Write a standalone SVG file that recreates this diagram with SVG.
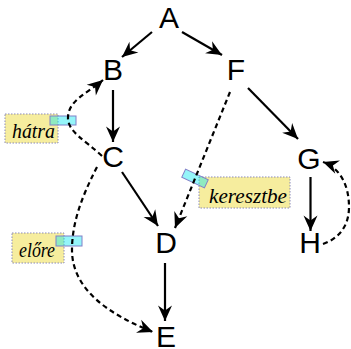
<svg xmlns="http://www.w3.org/2000/svg" width="351" height="349" viewBox="0 0 351 349">
  <style>
    .node { font-family: "Liberation Sans", Arial, sans-serif; font-size: 30px; fill: #000; text-anchor: middle; }
    .edge { fill: none; stroke: #000; stroke-width: 2.2; marker-end: url(#ah); }
    .dash { stroke-dasharray: 5 3.5; }
    .lbox { fill: #f6ed9e; stroke: #8a8ab8; stroke-width: 1; stroke-dasharray: 1.5 1.5; }
    .tag { fill: #00e8f0; fill-opacity: 0.42; stroke: #8080c8; stroke-width: 1; }
    .ltext { font-family: "Liberation Serif", "Times New Roman", serif; font-style: italic; font-size: 21px; fill: #000; }
  </style>
  <defs>
    <marker id="ah" viewBox="-17 -8 18 16" refX="0" refY="0" markerWidth="18" markerHeight="16" markerUnits="userSpaceOnUse" orient="auto">
      <path d="M0,0 L-15.5,-7 L-10.5,0 L-15.5,7 Z" fill="#000"/>
    </marker>
  </defs>

  <!-- edge labels -->
  <g id="label-hatra">
    <rect class="lbox" x="5" y="114" width="53" height="29"/>
    <text class="ltext" x="12" y="138" textLength="43" lengthAdjust="spacingAndGlyphs">hátra</text>
    <rect class="tag" x="50" y="116" width="26" height="9"/>
  </g>
  <g id="label-keresztbe">
    <rect class="lbox" x="199" y="177" width="91" height="31"/>
    <text class="ltext" x="209" y="203" textLength="78" lengthAdjust="spacingAndGlyphs">keresztbe</text>
    <rect class="tag" x="182.5" y="174" width="25" height="9" transform="rotate(25 195 178.5)"/>
  </g>
  <g id="label-elore">
    <rect class="lbox" x="12" y="233" width="52" height="30"/>
    <text class="ltext" x="19" y="257" textLength="36" lengthAdjust="spacingAndGlyphs">előre</text>
    <rect class="tag" x="56" y="236" width="26" height="10"/>
  </g>

  <!-- connectors -->
  <g id="edges">
    <line class="edge" x1="152" y1="32" x2="122" y2="57"/>
    <line class="edge" x1="182" y1="32" x2="222" y2="55"/>
    <line class="edge" x1="113" y1="90" x2="113" y2="142"/>
    <line class="edge" x1="122" y1="172" x2="158" y2="226"/>
    <line class="edge" x1="248" y1="88" x2="298" y2="139"/>
    <line class="edge dash" x1="230" y1="92" x2="175" y2="228"/>
    <line class="edge" x1="310.5" y1="177" x2="310.5" y2="231"/>
    <line class="edge" x1="165" y1="263" x2="165" y2="321"/>
    <path class="edge dash" d="M102,156 C85,140 68,132 68,118 C68,100 88,93 103,80"/>
    <path class="edge dash" d="M97,167 C80,200 72,225 72,250 C72,290 110,315 153,332"/>
    <path class="edge dash" d="M323,244 C340,238 349,225 349,207 C349,185 340,168 323,162"/>
  </g>

  <!-- nodes -->
  <g id="node-A"><text class="node" x="169" y="28">A</text></g>
  <g id="node-B"><text class="node" x="113" y="80">B</text></g>
  <g id="node-F"><text class="node" x="236" y="80">F</text></g>
  <g id="node-C"><text class="node" x="113" y="167">C</text></g>
  <g id="node-G"><text class="node" x="309" y="169">G</text></g>
  <g id="node-D"><text class="node" x="166" y="253">D</text></g>
  <g id="node-H"><text class="node" x="310" y="253">H</text></g>
  <g id="node-E"><text class="node" x="166" y="347">E</text></g>
</svg>
